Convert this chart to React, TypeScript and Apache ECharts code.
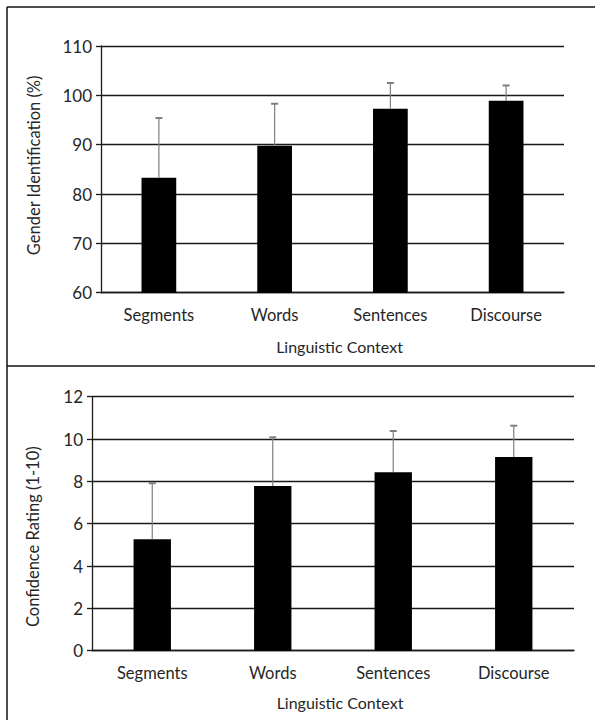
import React, { useEffect, useRef } from "react";
import * as echarts from "echarts";

const categories = ["Segments", "Words", "Sentences", "Discourse"];
const genderMeans = [83.3, 89.8, 97.3, 98.9];
const genderErrors = [12.1, 8.5, 5.2, 3.1];
const confidenceMeans = [5.26, 7.78, 8.43, 9.15];
const confidenceErrors = [2.65, 2.3, 1.95, 1.48];
const genderTicks = { min: 60, max: 110, interval: 10 };
const confidenceTicks = { min: 0, max: 12, interval: 2 };

const FONT = "Lato";
const TEXT = "#262626";

function errorRender(params: any, api: any) {
  const x = api.value(0);
  const y = api.value(1);
  const top = api.value(2);
  const p0 = api.coord([x, y]);
  const p1 = api.coord([x, top]);
  return {
    type: "group",
    children: [
      {
        type: "line",
        shape: { x1: p0[0], y1: p0[1], x2: p1[0], y2: p1[1] },
        style: { stroke: "#7f7f7f", lineWidth: 1.2 },
      },
      {
        type: "line",
        shape: { x1: p1[0] - 3.5, y1: p1[1], x2: p1[0] + 3.5, y2: p1[1] },
        style: { stroke: "#7f7f7f", lineWidth: 2 },
      },
    ],
  };
}

export default function App() {
  const ref = useRef<HTMLDivElement>(null);
  useEffect(() => {
    if (!ref.current) return;
    const chart = echarts.init(ref.current, null, { renderer: "svg" });
    const yAxisCommon = (ticks: any, name: string, padding: number[], gap: number) => ({
      type: "value",
      min: ticks.min,
      max: ticks.max,
      interval: ticks.interval,
      name,
      nameLocation: "middle",
      nameGap: gap,
      nameTextStyle: { fontFamily: FONT, fontSize: 16.5, color: TEXT, padding },
      axisLine: { show: true, lineStyle: { color: "#1a1a1a", width: 1.3 } },
      axisTick: { show: true, length: 5, lineStyle: { color: "#1a1a1a", width: 1.3 } },
      axisLabel: { fontFamily: FONT, fontSize: 17, color: TEXT, margin: 9 },
      splitLine: { show: true, lineStyle: { color: "#1a1a1a", width: 1.3 } },
    });
    const xAxisCommon = (gridIndex: number, gap: number) => ({
      type: "category",
      gridIndex,
      data: categories,
      name: "Linguistic Context",
      nameLocation: "middle",
      nameGap: gap,
      nameTextStyle: { fontFamily: FONT, fontSize: 16, color: TEXT, padding: [0, 0, 0, 14] },
      axisLine: { show: true, lineStyle: { color: "#1a1a1a", width: 1.3 } },
      axisTick: { show: false },
      axisLabel: { fontFamily: FONT, fontSize: 16.5, color: TEXT, margin: 14 },
    });
    chart.setOption({
      animation: false,
      backgroundColor: "#ffffff",
      grid: [
        { left: 101, right: 31, top: 46, height: 246.7 },
        { left: 92, right: 21, top: 396.7, height: 254 },
      ],
      xAxis: [xAxisCommon(0, 46), xAxisCommon(1, 44)],
      yAxis: [
        { ...yAxisCommon(genderTicks, "Gender Identification (%)", [0, 0, 0, 8], 59), gridIndex: 0 },
        { ...yAxisCommon(confidenceTicks, "Confidence Rating (1-10)", [0, 26, 0, 0], 51), gridIndex: 1 },
      ],
      series: [
        {
          type: "bar",
          xAxisIndex: 0,
          yAxisIndex: 0,
          data: genderMeans,
          barWidth: "30%",
          itemStyle: { color: "#000000" },
        },
        {
          type: "custom",
          xAxisIndex: 0,
          yAxisIndex: 0,
          renderItem: errorRender,
          data: genderMeans.map((m, i) => [i, m, m + genderErrors[i]]),
          z: 5,
        },
        {
          type: "bar",
          xAxisIndex: 1,
          yAxisIndex: 1,
          data: confidenceMeans,
          barWidth: "31%",
          itemStyle: { color: "#000000" },
        },
        {
          type: "custom",
          xAxisIndex: 1,
          yAxisIndex: 1,
          renderItem: errorRender,
          data: confidenceMeans.map((m, i) => [i, m, m + confidenceErrors[i]]),
          z: 5,
        },
      ],
      graphic: [
        { type: "line", shape: { x1: 7, y1: 7, x2: 595, y2: 7 }, style: { stroke: "#111", lineWidth: 1.5 } },
        { type: "line", shape: { x1: 7, y1: 7, x2: 7, y2: 720 }, style: { stroke: "#111", lineWidth: 1.5 } },
        { type: "line", shape: { x1: 7, y1: 366, x2: 595, y2: 366 }, style: { stroke: "#111", lineWidth: 1.5 } },
      ],
    });
    return () => chart.dispose();
  }, []);
  return (
    <div
      ref={ref}
      style={{ position: "absolute", left: 0, top: 0, width: 595, height: 720 }}
    />
  );
}
